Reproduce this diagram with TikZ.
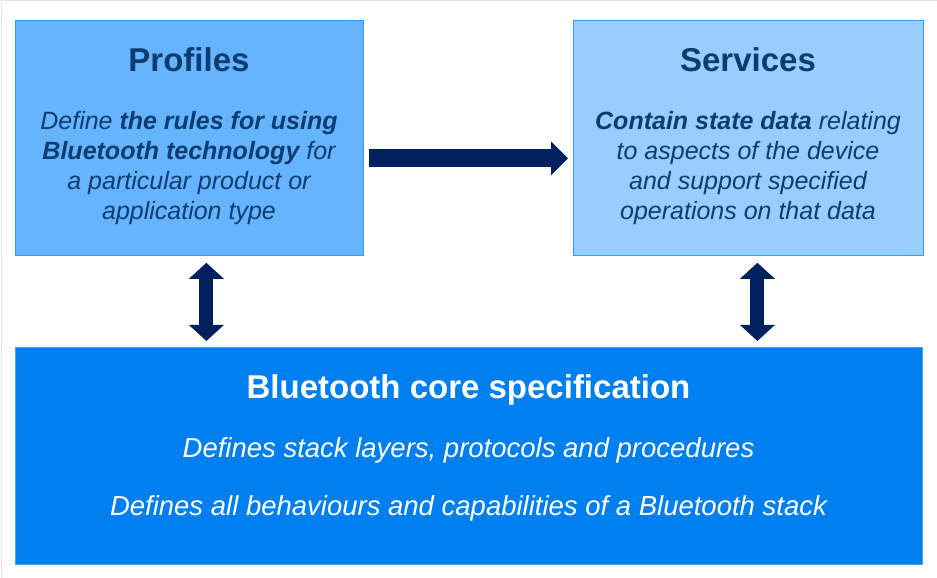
\documentclass[tikz,border=0pt]{standalone}
\usepackage{fontspec}
\setmainfont{Liberation Sans}
\usetikzlibrary{arrows.meta}
\definecolor{proffill}{HTML}{66B3FF}
\definecolor{servfill}{HTML}{99CCFF}
\definecolor{corefill}{HTML}{0080F0}
\definecolor{boxline}{HTML}{3399FF}
\definecolor{darktext}{HTML}{0D3C6E}
\definecolor{arrowcol}{HTML}{002060}
\definecolor{framecol}{HTML}{E4E4E4}
\tikzset{
  box/.style={rectangle, draw=boxline, line width=0.8pt, anchor=north west, inner sep=0pt},
  title/.style={anchor=base, font=\fontsize{33}{38}\selectfont\bfseries, inner sep=0pt},
  body/.style={anchor=base, font=\fontsize{25}{30}\selectfont\itshape, inner sep=0pt},
  corebody/.style={anchor=base, font=\fontsize{27.5}{32}\selectfont\itshape, inner sep=0pt, text=white},
  fatarrow/.style={draw=arrowcol, line width=18pt, -{Triangle[width=33pt,length=17pt]}},
  fatdouble/.style={draw=arrowcol, line width=14pt, {Triangle[width=34pt,length=16pt]}-{Triangle[width=34pt,length=16pt]}}
}
\begin{document}
\begin{tikzpicture}[x=1pt,y=1pt]
\useasboundingbox (0,0) rectangle (937,578);
\draw[framecol, line width=1pt] (1,0) -- (1,577) -- (937,577);
% boxes
\node[box, fill=proffill, minimum width=348pt, minimum height=235pt] (profiles) at (15,558) {};
\node[box, fill=servfill, minimum width=350pt, minimum height=235pt] (services) at (573,558) {};
\node[box, fill=corefill, draw=corefill!70!white, minimum width=907pt, minimum height=217pt] (core) at (15,231) {};
% profiles text
\node[title, text=darktext] (ptitle) at (189,506) {Profiles};
\node[body, text=darktext] (pl1) at (189,448) {Define \textbf{the rules for using}};
\node[body, text=darktext] (pl2) at (189,418) {\textbf{Bluetooth technology} for};
\node[body, text=darktext] (pl3) at (189,388) {a particular product or};
\node[body, text=darktext] (pl4) at (189,358) {application type};
% services text
\node[title, text=darktext] (stitle) at (748,506) {Services};
\node[body, text=darktext] (sl1) at (748,448) {\textbf{Contain state data} relating};
\node[body, text=darktext] (sl2) at (748,418) {to aspects of the device};
\node[body, text=darktext] (sl3) at (748,388) {and support specified};
\node[body, text=darktext] (sl4) at (748,358) {operations on that data};
% core text
\node[title, text=white] (ctitle) at (468.5,179) {Bluetooth core specification};
\node[corebody] (cl1) at (468.5,120) {Defines stack layers, protocols and procedures};
\node[corebody] (cl2) at (468.5,62) {Defines all behaviours and capabilities of a Bluetooth stack};
% arrows
\draw[fatarrow, shorten <=5pt, shorten >=5pt] ([yshift=-20.5pt]profiles.east) -- ([yshift=-20.5pt]services.west);
\draw[fatdouble, shorten <=7pt, shorten >=6pt] ([xshift=17pt]profiles.south) -- ([xshift=17pt]profiles.south |- core.north);
\draw[fatdouble, shorten <=7pt, shorten >=6pt] ([xshift=9pt]services.south) -- ([xshift=9pt]services.south |- core.north);
\end{tikzpicture}
\end{document}
